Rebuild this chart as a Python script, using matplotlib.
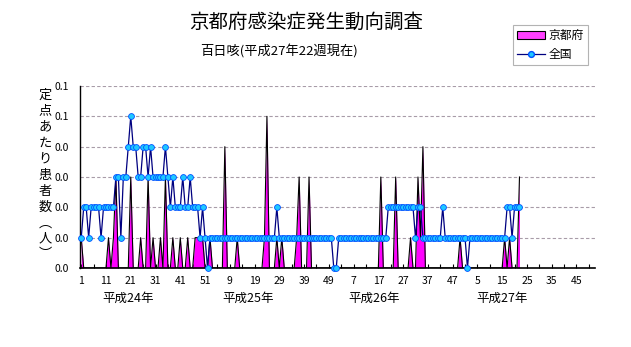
import numpy as np
import matplotlib.pyplot as plt
from matplotlib.patches import Patch
from matplotlib.lines import Line2D

plt.rcParams['font.family'] = ['Noto Sans CJK JP', 'DejaVu Sans']

# 定点あたり患者数 (weekly), 2012 wk1 .. 2015 wk22
kyoto_2012 = [.02, 0, 0, 0, 0, 0, 0, 0, 0, 0,
              0, .02, 0, .02, .06, 0, 0, 0, 0, 0,
              .06, 0, 0, 0, .02, 0, 0, .06, 0, .02,
              0, 0, .02, 0, .06, 0, 0, .02, 0, 0,
              .02, 0, 0, .02, 0, 0, .02, .02, .02, .02,
              0, 0]
kyoto_2013 = [.02, 0, 0, 0, 0, 0, .08, 0, 0, 0,
              0, .02, 0, 0, 0, 0, 0, 0, 0, 0,
              0, 0, .02, .10, 0, 0, 0, .02, 0, .02,
              0, 0, 0, 0, 0, .02, .06, 0, 0, 0,
              .06, 0, 0, 0, 0, 0, 0, 0, 0, 0,
              0, 0]
kyoto_2014 = [0, 0, 0, 0, 0, 0, 0, 0, 0, 0,
              0, 0, 0, 0, 0, 0, 0, .06, 0, 0,
              0, 0, 0, .06, 0, 0, 0, 0, 0, .02,
              0, 0, .06, .02, .08, 0, 0, 0, 0, 0,
              0, 0, 0, 0, 0, 0, 0, 0, 0, .02,
              0, 0]
kyoto_2015 = [0, 0, 0, 0, 0, 0, 0, 0, 0, 0,
              0, 0, 0, 0, 0, .02, 0, .02, 0, 0,
              0, .06]

zenkoku_2012 = [.02, .04, .04, .02, .04, .04, .04, .04, .02, .04,
                .04, .04, .04, .04, .06, .06, .02, .06, .06, .08,
                .10, .08, .08, .06, .06, .08, .08, .06, .08, .06,
                .06, .06, .06, .06, .08, .06, .04, .06, .04, .04,
                .04, .06, .04, .04, .06, .04, .04, .04, .02, .04,
                .02, 0]
zenkoku_2013 = [.02, .02, .02, .02, .02, .02, .02, .02, .02, .02,
                .02, .02, .02, .02, .02, .02, .02, .02, .02, .02,
                .02, .02, .02, .02, .02, .02, .02, .04, .02, .02,
                .02, .02, .02, .02, .02, .02, .02, .02, .02, .02,
                .02, .02, .02, .02, .02, .02, .02, .02, .02, .02,
                0, 0]
zenkoku_2014 = [.02, .02, .02, .02, .02, .02, .02, .02, .02, .02,
                .02, .02, .02, .02, .02, .02, .02, .02, .02, .02,
                .04, .04, .04, .04, .04, .04, .04, .04, .04, .04,
                .04, .02, .04, .04, .02, .02, .02, .02, .02, .02,
                .02, .02, .04, .02, .02, .02, .02, .02, .02, .02,
                .02, .02]
zenkoku_2015 = [0, .02, .02, .02, .02, .02, .02, .02, .02, .02,
                .02, .02, .02, .02, .02, .02, .04, .04, .02, .04,
                .04, .04]

n_weeks = 208
week_ticks = ["1", "11", "21", "31", "41", "51", "9", "19", "29", "39", "49",
              "7", "17", "27", "37", "47", "5", "15", "25", "35", "45"]
year_labels = ["平成24年", "平成25年", "平成26年", "平成27年"]
year_pos = [128, 248, 374, 502]
y_ticks = [0, .02, .04, .06, .08, .10, .12]
y_tick_labels = ["0.0", "0.0", "0.0", "0.0", "0.0", "0.1", "0.1"]

kyoto = np.array(kyoto_2012 + kyoto_2013 + kyoto_2014 + kyoto_2015)
zenkoku = np.array(zenkoku_2012 + zenkoku_2013 + zenkoku_2014 + zenkoku_2015)
x = np.arange(len(kyoto))

fig = plt.figure(figsize=(6.31, 3.47), dpi=100)
ax = fig.add_axes([80 / 631, 1 - 268 / 347, 515 / 631, 182 / 347])

ax.fill_between(x, 0, kyoto, color='#ff00ff', lw=0, zorder=2)
ax.plot(x, kyoto, color='black', lw=0.8, zorder=3)
ax.plot(x, zenkoku, color='#000080', lw=0.9, marker='o', ms=4.2,
        mfc='#1ec8ff', mec='#0050ff', mew=0.6, zorder=4, clip_on=False)

ax.set_xlim(-0.5, n_weeks - 0.5)
ax.set_ylim(0, 0.12)
ax.set_yticks(y_ticks)
ax.set_yticklabels(y_tick_labels)
ax.set_xticks(np.arange(0, n_weeks, 10))
ax.set_xticklabels(week_ticks)
ax.set_xticks(np.arange(5, n_weeks, 10), minor=True)
ax.tick_params(axis='x', which='both', direction='in', length=3, width=0.8,
               labelsize=7.5, pad=6)
ax.tick_params(axis='y', length=0, labelsize=7.5, pad=8)
ax.yaxis.grid(True, ls=(0, (3, 2)), color='#a89ca8', lw=0.8)
ax.set_axisbelow(True)
for s in ['top', 'right']:
    ax.spines[s].set_visible(False)
ax.spines['left'].set_linewidth(1)
ax.spines['bottom'].set_linewidth(1.2)

fig.text(306 / 631, 1 - 22 / 347, "京都府感染症発生動向調査", fontsize=14,
         ha='center', va='center')
fig.text(279 / 631, 1 - 52 / 347, "百日咳(平成27年22週現在)", fontsize=9.5,
         ha='center', va='center')
fig.text(45 / 631, 1 - 175 / 347, "\n".join("定点あたり患者数︵人︶"),
         fontsize=9.5, ha='center', va='center', linespacing=1.3)
for lab, px in zip(year_labels, year_pos):
    fig.text(px / 631, 1 - 298 / 347, lab, fontsize=9, ha='center', va='center')

handles = [Patch(facecolor='#ff40ff', edgecolor='black', lw=0.8),
           Line2D([], [], color='#000080', lw=0.9, marker='o', ms=4.2,
                  mfc='#1ec8ff', mec='#0050ff')]
leg = fig.legend(handles, ["京都府", "全国"], loc='upper left',
                 bbox_to_anchor=(513 / 631, 1 - 25 / 347), fontsize=8.5,
                 frameon=True, fancybox=False, edgecolor='#a0a0a0',
                 handlelength=2.4, handleheight=0.6, borderpad=0.35,
                 labelspacing=0.5, handletextpad=0.25, borderaxespad=0)
leg.get_frame().set_linewidth(0.8)

fig.savefig("out.png", dpi=100)
